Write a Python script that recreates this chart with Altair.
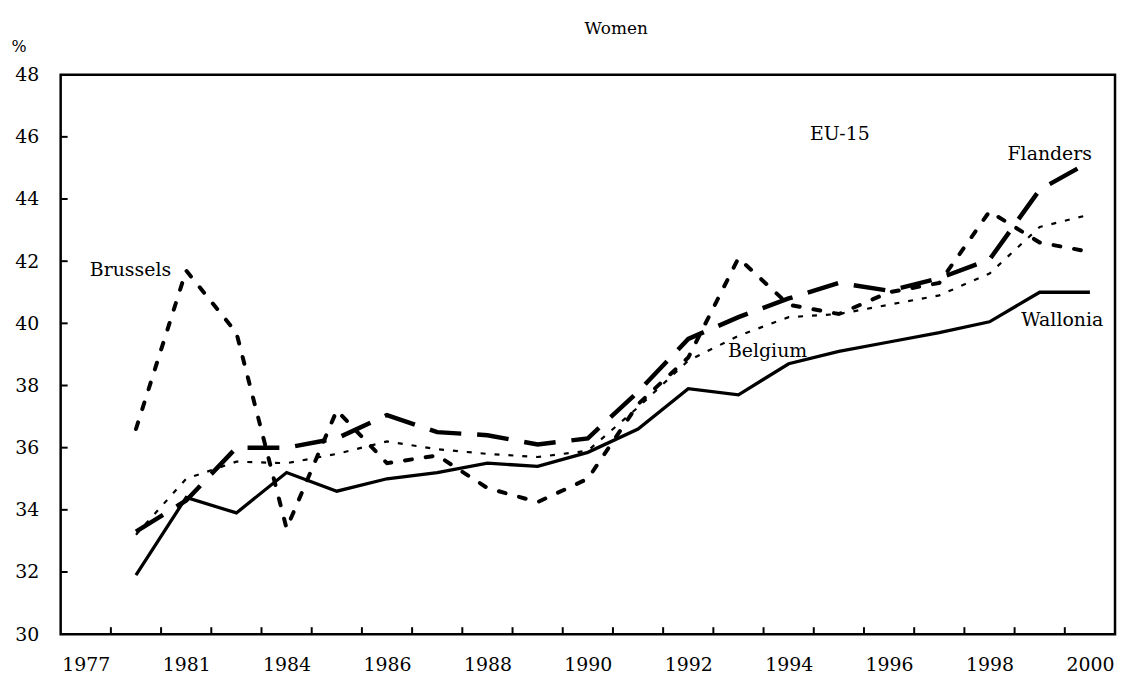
import altair as alt
import pandas as pd

# ---- data ----
years = ["1977", "1979", "1981", "1983", "1984", "1985", "1986", "1987", "1988", "1989",
         "1990", "1991", "1992", "1993", "1994", "1995", "1996", "1997", "1998", "1999", "2000"]
wallonia = [None, 31.9, 34.4, 33.9, 35.2, 34.6, 35.0, 35.2, 35.5, 35.4, 35.85,
            36.6, 37.9, 37.7, 38.7, 39.1, 39.4, 39.7, 40.05, 41.0, 41.0]
flanders = [None, 33.3, 34.3, 36.0, 36.0, 36.3, 37.05, 36.5, 36.4, 36.1, 36.3,
            37.8, 39.5, 40.2, 40.8, 41.3, 41.05, 41.45, 42.05, 44.3, 45.2]
brussels = [None, 36.6, 41.7, 39.7, 33.4, 37.2, 35.5, 35.75, 34.7, 34.25, 35.0,
            37.4, 38.9, 42.1, 40.6, 40.3, 41.0, 41.3, 43.6, 42.6, 42.3]
belgium = [None, 33.2, 35.0, 35.55, 35.5, 35.8, 36.2, 35.95, 35.8, 35.7, 35.9,
           37.3, 38.8, 39.6, 40.2, 40.3, 40.6, 40.9, 41.6, 43.1, 43.5]

label_names = ["Brussels", "EU-15", "Flanders", "Wallonia", "Belgium"]
label_k = [0.89, 15.02, 19.2, 19.45, 13.58]
label_v = [41.7, 46.1, 45.45, 40.1, 39.1]

y_ticks = [30, 32, 34, 36, 38, 40, 42, 44, 46, 48]
title_text = "Women"
unit_text = "%"

# ---- tables ----
series = {"Wallonia": wallonia, "Flanders": flanders, "Brussels": brussels, "Belgium": belgium}
rows = []
for name, vals in series.items():
    for k, v in enumerate(vals):
        if v is not None:
            rows.append({"series": name, "k": k, "year": years[k], "value": v})
df = pd.DataFrame(rows)
labels_df = pd.DataFrame({"name": label_names, "k": label_k, "value": label_v})
ytick_df = pd.DataFrame({"value": y_ticks[1:-1]})
xtick_df = pd.DataFrame({"k": [k + 0.5 for k in range(len(years) - 1)]})

W, H = 1061, 563
FONT = "DejaVu Serif"
label_expr = "[" + ",".join("'%s'" % y for y in years) + "][datum.value]"

xscale = alt.Scale(domain=[-0.5, len(years) - 0.5], nice=False, zero=False)
yscale = alt.Scale(domain=[30, 48], nice=False, zero=False)

x_axis = alt.Axis(values=list(range(0, len(years), 2)), labelExpr=label_expr, title=None,
                  ticks=False, domain=False, grid=False, labelFont=FONT, labelFontSize=19,
                  labelColor="black", labelPadding=22, labelAngle=0, labelOverlap=False)
y_axis = alt.Axis(values=y_ticks, title=None, ticks=False, domain=False, grid=False,
                  labelFont=FONT, labelFontSize=19, labelColor="black", labelPadding=22,
                  labelOverlap=False)


def X(field):
    return alt.X(field, type="quantitative", scale=xscale, axis=x_axis)


def Y(field):
    return alt.Y(field, type="quantitative", scale=yscale, axis=y_axis)


styles = {
    "Wallonia": dict(strokeWidth=3.3),
    "Flanders": dict(strokeWidth=4.5, strokeDash=[32, 16]),
    "Brussels": dict(strokeWidth=4, strokeDash=[7, 14], strokeCap="round"),
    "Belgium": dict(strokeWidth=2.2, strokeDash=[5, 9]),
}

base = alt.Chart(df)
layers = []
for name in ["Belgium", "Brussels", "Flanders", "Wallonia"]:
    layers.append(
        base.transform_filter(alt.datum.series == name)
        .mark_line(color="black", **styles[name])
        .encode(x=X("k"), y=Y("value"))
    )

yticks = alt.Chart(ytick_df).mark_rule(color="black", strokeWidth=2).encode(
    y=Y("value"), x=alt.value(0), x2=alt.value(7))
xticks = alt.Chart(xtick_df).mark_rule(color="black", strokeWidth=2).encode(
    x=X("k"), y=alt.value(H - 7), y2=alt.value(H))

texts = alt.Chart(labels_df).mark_text(font=FONT, fontSize=19, color="black",
                                        align="center", baseline="middle").encode(
    x=X("k"), y=Y("value"), text="name:N")

title_mark = alt.Chart(pd.DataFrame({"t": [title_text]})).mark_text(
    font=FONT, fontSize=17, color="black", align="center", baseline="middle").encode(
    text="t:N", x=alt.value(559), y=alt.value(-46))

pct = alt.Chart(pd.DataFrame({"t": [unit_text]})).mark_text(
    font=FONT, fontSize=16, color="black", align="center", baseline="middle").encode(
    text="t:N", x=alt.value(-42), y=alt.value(-28))

chart = alt.layer(*layers, yticks, xticks, texts, title_mark, pct).properties(
    width=W, height=H,
    autosize=alt.AutoSizeParams(type="none"),
    padding={"left": 53, "top": 65, "right": 2, "bottom": 41},
).configure(background="white").configure_view(stroke="black", strokeWidth=2.5)

chart.save("out.html", embed_options={"renderer": "svg", "actions": False})
